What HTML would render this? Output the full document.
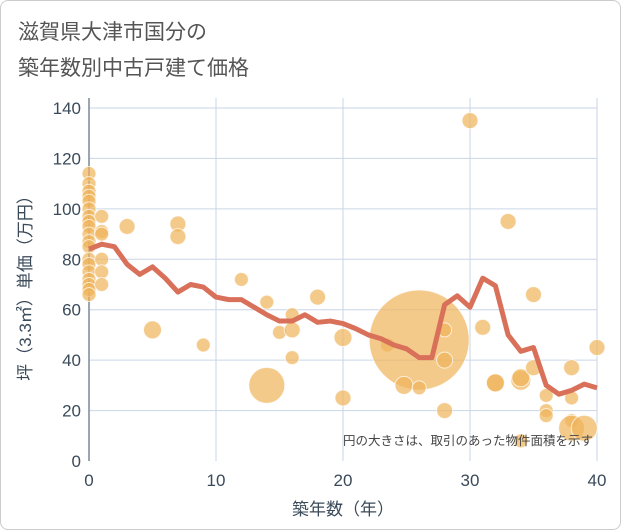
<!DOCTYPE html>
<html><head><meta charset="utf-8"><style>
body{margin:0;background:#fff;}
#wrap{position:relative;width:619px;height:528px;border:1px solid #ccc;border-radius:8px;overflow:hidden;background:#fff;font-family:"Liberation Sans","Noto Sans CJK JP",sans-serif;}
.title{position:absolute;left:17px;top:14px;font-size:21px;line-height:36px;color:#555;}
</style></head><body>
<div id="wrap">
<div class="title">滋賀県大津市国分の<br>築年数別中古戸建て価格</div>
<svg id="chart" width="621" height="530" style="position:absolute;left:0;top:0"></svg>
</div>
<script>
const years=[0,1,2,3,4,5,6,7,8,9,10,11,12,13,14,15,16,17,18,19,20,21,22,23,24,25,26,27,28,29,30,31,32,33,34,35,36,37,38,39,40];
const avgPrice=[84,86,85,78,74,77,72.5,67,70,69,65,64,64,61,58,55.5,55.5,58,55,55.5,54.5,52.5,50,48.5,46,44.5,41,41,62,65.5,61,72.5,69.5,50,43.5,45,30,26.5,28,30.5,29];
const bubbleYear=[0,0,0,0,0,0,0,0,0,0,0,0,0,0,0,0,0,0,0,1,1,1,1,1,1,3,5,7,7,9,12,14,14,15,16,16,16,18,20,20,23.5,26,24.8,26,28,28,28,30,31,32,32,33,34,34,35,35,34,36,36,36,38,38,38,38,39,40];
const bubblePrice=[114,110,107,105,103,100,97,95,93,90,87,85,80,78,75,72,70,68,66,97,91,90,80,75,70,93,52,94,89,46,72,30,63,51,58,52,41,65,49,25,46,48,30,29,52,40,20,135,53,31,31,95,32,33,37,66,8,26,20,18,37,25,16,13,13,45];
const bubbleSize=[7,7,7,7,7,7,7,7,7,7,7,7,7,7,7,7,7,7,7,7,7,7,7,7,7,8,9,8,8,7,7,18,7,7,7,8,7,8,9,8,7,50,9,7,7,8,8,8,8,9,9,8,10,9,8,8,7,7,7,7,8,7,7,13,13,8];
const xTicks=[0,10,20,30,40];
const yTicks=[0,20,40,60,80,100,120,140];
const NS="http://www.w3.org/2000/svg";
const svg=document.getElementById('chart');
const L=88,R=596,T=107,B=460;
function xs(v){return L+(v/40)*(R-L);}
function ys(v){return B-(v/140)*(B-T);}
function mk(t,a){const e=document.createElementNS(NS,t);for(const k in a)e.setAttribute(k,a[k]);svg.appendChild(e);return e;}
yTicks.forEach(t=>{if(t>0){const g=mk('line',{x1:L,x2:R,y1:ys(t),y2:ys(t),stroke:'#c9d6e6','stroke-width':1});

}
const tx=mk('text',{x:L-8,y:ys(t)+6,'text-anchor':'end','font-size':17,fill:'#3a4a5a'});tx.textContent=t;

});
xTicks.forEach(t=>{if(t>0){const g=mk('line',{x1:xs(t),x2:xs(t),y1:T-10,y2:B,stroke:'#c9d6e6','stroke-width':1});

}
const tx=mk('text',{x:xs(t),y:B+25,'text-anchor':'middle','font-size':17,fill:'#3a4a5a'});tx.textContent=t;

});
const ax=mk('line',{x1:L,x2:L,y1:T-10,y2:B,stroke:'#7a8898','stroke-width':1.5});


bubbleYear.forEach((y,i)=>{const c=mk('circle',{cx:xs(y),cy:ys(bubblePrice[i]),r:bubbleSize[i],fill:'rgba(240,180,90,0.7)',stroke:'rgba(255,255,255,0.7)','stroke-width':1});

});
const pl=mk('polyline',{points:years.map((y,i)=>xs(y)+','+ys(avgPrice[i])).join(' '),fill:'none',stroke:'#d9705a','stroke-width':5,'stroke-linejoin':'round'});


const note=mk('text',{x:592,y:444,'text-anchor':'end','font-size':12.5,fill:'#444'});note.textContent='円の大きさは、取引のあった物件面積を示す';


const xt=mk('text',{x:342,y:514,'text-anchor':'middle','font-size':17,fill:'#3a4a5a'});xt.textContent='築年数（年）';


const yt=mk('text',{x:0,y:0,'text-anchor':'middle','font-size':17,fill:'#3a4a5a',transform:'translate(30,283) rotate(-90)'});yt.textContent='坪（3.3㎡）単価（万円）';


</script>
</body></html>
